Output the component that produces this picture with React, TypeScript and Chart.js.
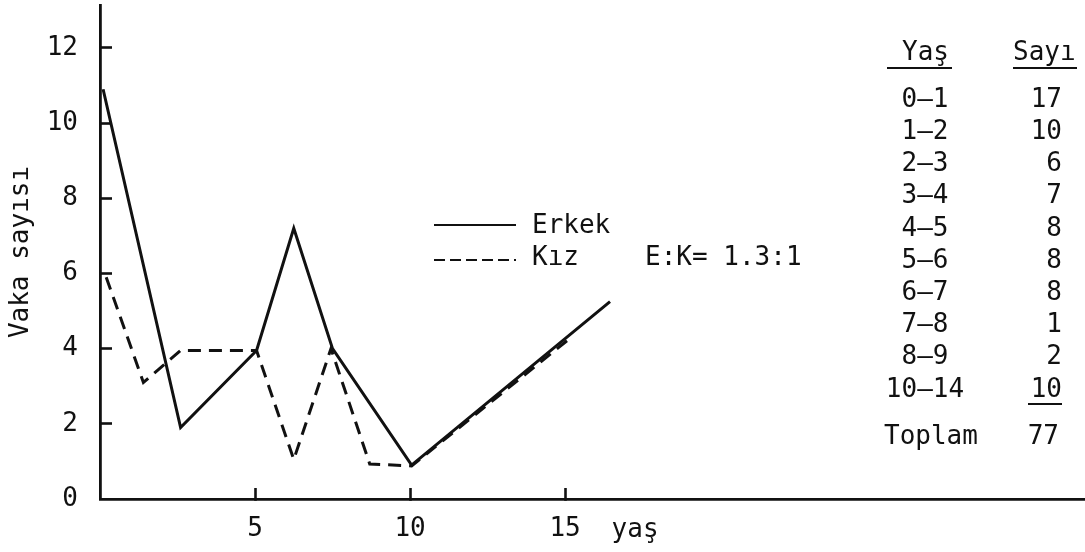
import React, { useEffect, useRef } from 'react';
import { Chart, registerables } from 'chart.js';

Chart.register(...registerables);

// ---- data ----
const erkekAges = [0.1, 2.6, 5.05, 6.25, 7.5, 10.05, 16.45];
const erkekCases = [10.9, 1.9, 3.95, 7.2, 4.0, 0.9, 5.25];
const kizAges = [0.2, 1.4, 2.6, 5.05, 6.25, 7.45, 8.7, 10.05, 15.2];
const kizCases = [5.9, 3.1, 3.95, 3.95, 1.05, 4.0, 0.93, 0.88, 4.3];

const yTickValues = [0, 2, 4, 6, 8, 10, 12];
const xTickValues = [5, 10, 15];

const seriesNames = ['Erkek', 'Kız'];
const yTitle = 'Vaka sayısı';
const xTitle = 'yaş';
const ratioText = 'E:K= 1.3:1';

const tableHeaders = ['Yaş', 'Sayı'];
const tableAges = ['0–1', '1–2', '2–3', '3–4', '4–5', '5–6', '6–7', '7–8', '8–9', '10–14'];
const tableCounts = [17, 10, 6, 7, 8, 8, 8, 1, 2, 10];
const totalLabel = 'Toplam';
const totalCount = 77;

const INK = '#111111';
const FONT = '"DejaVu Sans Mono", monospace';
const FS = 26;

const overlayPlugin = {
  id: 'overlay',
  afterDraw(chart: any) {
    const ctx = chart.ctx as CanvasRenderingContext2D;
    const xs = chart.scales.x;
    ctx.save();
    ctx.fillStyle = INK;
    ctx.strokeStyle = INK;
    ctx.font = `${FS}px ${FONT}`;
    ctx.textBaseline = 'middle';

    // x axis title
    ctx.textAlign = 'center';
    ctx.fillText(xTitle, xs.getPixelForValue(15) + 70, 530);

    // legend
    ctx.lineWidth = 2.2;
    ctx.setLineDash([]);
    ctx.beginPath();
    ctx.moveTo(434, 225);
    ctx.lineTo(516, 225);
    ctx.stroke();
    ctx.setLineDash([11, 5]);
    ctx.beginPath();
    ctx.moveTo(434, 260);
    ctx.lineTo(516, 260);
    ctx.stroke();
    ctx.setLineDash([]);
    ctx.textAlign = 'left';
    ctx.fillText(seriesNames[0], 532, 226);
    ctx.fillText(seriesNames[1], 532, 258);
    ctx.fillText(ratioText, 645, 258);

    // table
    const colAgeCenter = 925;
    const colCountRight = 1062;
    ctx.textAlign = 'left';
    ctx.fillText(tableHeaders[0], 902, 53);
    ctx.fillText(tableHeaders[1], 1013, 53);
    ctx.lineWidth = 2;
    ctx.beginPath();
    ctx.moveTo(887, 68);
    ctx.lineTo(952, 68);
    ctx.moveTo(1013, 68);
    ctx.lineTo(1077, 68);
    ctx.stroke();

    tableAges.forEach((a, i) => {
      const y = 100 + i * 32.2;
      ctx.textAlign = 'center';
      ctx.fillText(a, colAgeCenter, y);
      ctx.textAlign = 'right';
      ctx.fillText(String(tableCounts[i]), colCountRight, y);
    });
    // underline last count
    ctx.beginPath();
    ctx.moveTo(1028, 404);
    ctx.lineTo(1062, 404);
    ctx.stroke();

    ctx.textAlign = 'left';
    ctx.fillText(totalLabel, 884, 437);
    ctx.textAlign = 'right';
    ctx.fillText(String(totalCount), 1059, 437);

    ctx.restore();
  },
};

export default function App() {
  const canvasRef = useRef<HTMLCanvasElement | null>(null);

  useEffect(() => {
    document.body.style.margin = '0';
    const canvas = canvasRef.current;
    if (!canvas) return;

    const chart = new Chart(canvas, {
      type: 'line',
      data: {
        datasets: [
          {
            label: seriesNames[0],
            data: erkekAges.map((x, i) => ({ x, y: erkekCases[i] })),
            borderColor: INK,
            borderWidth: 3,
            pointRadius: 0,
            tension: 0,
            fill: false,
          },
          {
            label: seriesNames[1],
            data: kizAges.map((x, i) => ({ x, y: kizCases[i] })),
            borderColor: INK,
            borderWidth: 3,
            borderDash: [13, 8],
            pointRadius: 0,
            tension: 0,
            fill: false,
          },
        ],
      },
      options: {
        animation: false,
        responsive: false,
        devicePixelRatio: 1,
        layout: { padding: { top: 5, left: 0, right: 0, bottom: 0 } },
        plugins: {
          legend: { display: false },
          tooltip: { enabled: false },
          title: { display: false },
        },
        scales: {
          x: {
            type: 'linear',
            min: 0,
            max: 31.77,
            afterBuildTicks: (s: any) => {
              s.ticks = xTickValues.map((v) => ({ value: v }));
            },
            afterFit: (s: any) => {
              s.height = 53;
              s.paddingLeft = 0;
              s.paddingRight = 0;
            },
            border: { display: true, color: INK, width: 2.8 },
            grid: {
              drawOnChartArea: false,
              drawTicks: true,
              tickLength: -11,
              tickWidth: 2.6,
              tickColor: INK,
            },
            ticks: {
              color: INK,
              font: { family: FONT, size: FS },
              padding: 26,
              maxRotation: 0,
              autoSkip: false,
            },
          },
          y: {
            type: 'linear',
            min: 0,
            max: 13.14,
            afterBuildTicks: (s: any) => {
              s.ticks = yTickValues.map((v) => ({ value: v }));
            },
            afterFit: (s: any) => {
              s.width = 100;
              s.paddingTop = 0;
              s.paddingBottom = 0;
            },
            border: { display: true, color: INK, width: 2.8 },
            grid: {
              drawOnChartArea: false,
              drawTicks: true,
              tickLength: -12,
              tickWidth: 2.6,
              tickColor: (c: any) => (c.tick && c.tick.value === 0 ? 'rgba(0,0,0,0)' : INK),
            },
            ticks: {
              color: INK,
              font: { family: FONT, size: FS },
              padding: 34,
              autoSkip: false,
            },
            title: {
              display: true,
              text: yTitle,
              color: INK,
              font: { family: FONT, size: FS },
              padding: { top: 6, bottom: 0 },
            },
          },
        },
      },
      plugins: [overlayPlugin],
    } as any);

    return () => {
      chart.destroy();
    };
  }, []);

  return (
    <div style={{ position: 'fixed', left: 0, top: 0, width: 1085, height: 552, background: '#ffffff' }}>
      <canvas ref={canvasRef} width={1085} height={552} style={{ display: 'block' }} />
    </div>
  );
}
